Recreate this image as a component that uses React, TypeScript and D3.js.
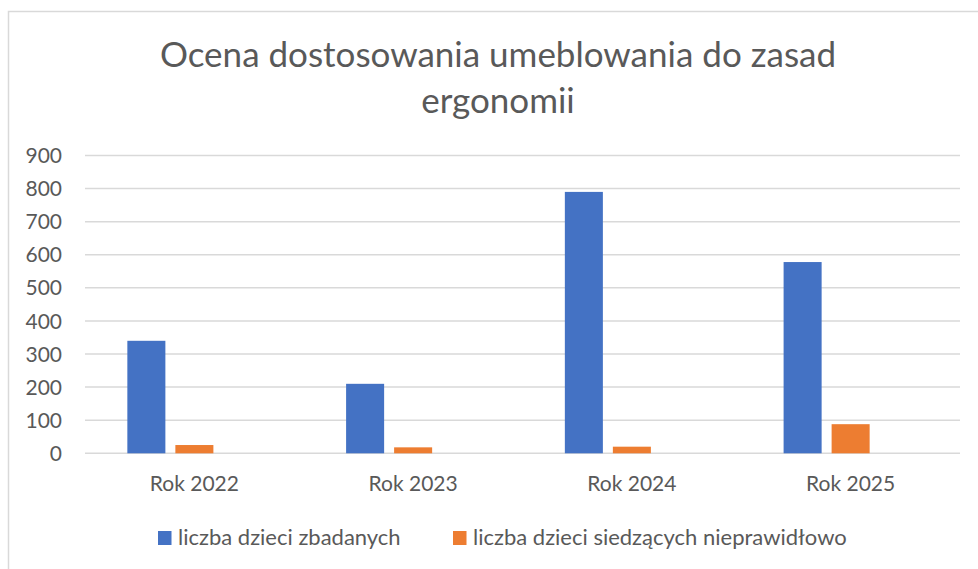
import React from "react";
import * as d3 from "d3";

const categories = ["Rok 2022", "Rok 2023", "Rok 2024", "Rok 2025"];
const seriesNames = ["liczba dzieci zbadanych", "liczba dzieci siedzących nieprawidłowo", ""];
const examined = [340, 210, 790, 578];
const incorrect = [25, 18, 20, 88];
const yTicks = [0, 100, 200, 300, 400, 500, 600, 700, 800, 900];
const titleLines = ["Ocena dostosowania umeblowania do zasad", "ergonomii"];

const colors = ["#4472C4", "#ED7D31"];
const textColor = "#595959";
const gridColor = "#d9d9d9";
const font = "Lato, 'Open Sans', sans-serif";

const width = 978;
const height = 569;
const margin = { top: 155.5, right: 18, bottom: 115.7, left: 85 };

const App: React.FC = () => {
  const x0 = d3
    .scaleBand<string>()
    .domain(categories)
    .range([margin.left, width - margin.right])
    .padding(0);

  // three slots per category, the third one is empty (as in the original)
  const x1 = d3
    .scaleBand<string>()
    .domain(["a", "b", "c"])
    .range([0, x0.bandwidth()])
    .paddingInner(0.208)
    .paddingOuter(0.882);

  const y = d3
    .scaleLinear()
    .domain([0, 900])
    .range([height - margin.bottom, margin.top]);

  const series = [examined, incorrect];
  const slots = ["a", "b"];

  return (
    <svg
      width={width}
      height={height}
      style={{ position: "absolute", left: 0, top: 0, background: "#fff" }}
      fontFamily={font}
    >
      <rect x={8.5} y={11.5} width={1000} height={600} fill="#fff" stroke={gridColor} strokeWidth={1.5} />

      {titleLines.map((t, i) => (
        <text
          key={t}
          x={498}
          y={67 + i * 46}
          textAnchor="middle"
          fontSize={35}
          fill={textColor}
        >
          {t}
        </text>
      ))}

      {yTicks.map((t) => (
        <g key={t}>
          <line
            x1={margin.left}
            x2={width - margin.right}
            y1={y(t)}
            y2={y(t)}
            stroke={gridColor}
            strokeWidth={1.5}
          />
          <text x={62} y={y(t)} dy="0.36em" textAnchor="end" fontSize={21} fill={textColor}>
            {t}
          </text>
        </g>
      ))}

      {series.map((vals, si) =>
        vals.map((v, ci) => (
          <rect
            key={`${si}-${ci}`}
            x={x0(categories[ci])! + x1(slots[si])!}
            y={y(v)}
            width={x1.bandwidth()}
            height={y(0) - y(v)}
            fill={colors[si]}
          />
        ))
      )}

      {categories.map((c) => (
        <text
          key={c}
          x={x0(c)! + x0.bandwidth() / 2}
          y={491}
          textAnchor="middle"
          fontSize={21}
          fill={textColor}
        >
          {c}
        </text>
      ))}

      {[0, 1].map((i) => {
        const lx = [158, 453][i];
        return (
          <g key={i}>
            <rect x={lx} y={531} width={13.5} height={14} fill={colors[i]} />
            <text x={lx + 20} y={545} fontSize={22} fill={textColor}>
              {seriesNames[i]}
            </text>
          </g>
        );
      })}
    </svg>
  );
};

export default App;
